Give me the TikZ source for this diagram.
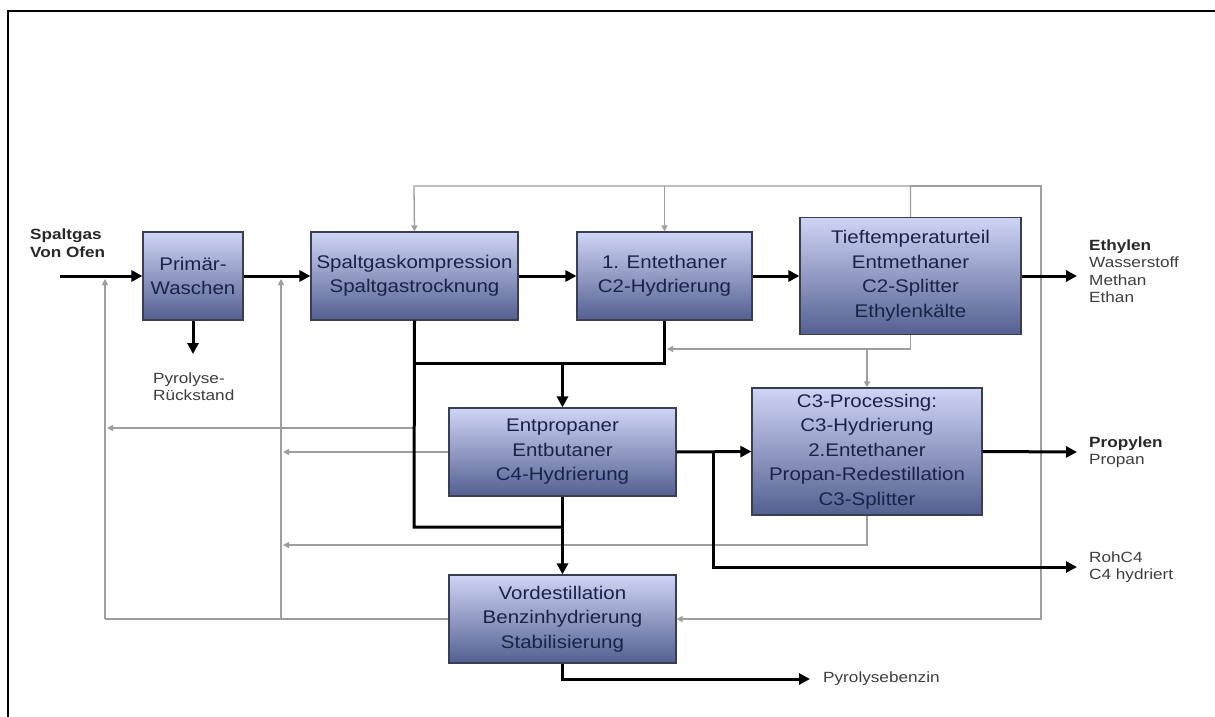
\documentclass[tikz,border=0pt]{standalone}
\usepackage{fontspec}
\setmainfont{Liberation Sans}
\newfontfamily\boxfont[FakeStretch=1.12]{Liberation Sans}
\newfontfamily\lblfont[FakeStretch=1.16]{Liberation Sans}
\usetikzlibrary{arrows.meta}

\definecolor{boxtop}{RGB}{206,213,245}
\definecolor{boxbot}{RGB}{84,95,144}
\definecolor{boxline}{RGB}{58,62,82}
\definecolor{boxtext}{RGB}{26,34,72}
\definecolor{recycle}{RGB}{158,158,158}
\definecolor{lbltext}{RGB}{62,62,62}
\definecolor{lblbold}{RGB}{40,40,40}

\tikzset{
  unit/.style={draw=boxline, line width=1.2pt, top color=boxtop, bottom color=boxbot,
    align=center, text=boxtext, inner sep=0pt,
    font=\boxfont\fontsize{18.3}{24.5}\selectfont},
  main/.style={line width=3pt, draw=black, line join=miter},
  mainarrow/.style={main, -{Triangle[length=11pt,width=11pt]}},
  rec/.style={line width=1.3pt, draw=recycle},
  recarrow/.style={rec, -{Triangle[length=6pt,width=6pt]}},
  lbl/.style={align=left, anchor=west, inner sep=0pt, text=lbltext,
    font=\lblfont\fontsize{14.8}{17.5}\selectfont},
}

\begin{document}
\begin{tikzpicture}[x=1pt,y=-1pt]
\useasboundingbox[fill=white] (0,0) rectangle (1215,717);
\draw[line width=2.5pt] (8,717) -- (8,11) -- (1215,11);

% process units
\node[unit, minimum width=100pt, minimum height=88pt] (PW) at (193,276) {Primär-\\Waschen};
\node[unit, minimum width=207pt, minimum height=88pt] (SK) at (414.5,276) {Spaltgaskompression\\Spaltgastrocknung};
\node[unit, minimum width=175pt, minimum height=88pt] (EE) at (664.5,276) {1. Entethaner\\C2-Hydrierung};
\node[unit, minimum width=221pt, minimum height=117pt] (TT) at (910.5,276) {Tieftemperaturteil\\Entmethaner\\C2-Splitter\\Ethylenkälte};
\node[unit, minimum width=227pt, minimum height=88pt] (EP) at (562.5,452) {Entpropaner\\Entbutaner\\C4-Hydrierung};
\node[unit, minimum width=230pt, minimum height=127pt] (C3) at (867,451.5) {C3-Processing:\\C3-Hydrierung\\2.Entethaner\\Propan-Redestillation\\C3-Splitter};
\node[unit, minimum width=227pt, minimum height=88pt] (VD) at (562.5,619) {Vordestillation\\Benzinhydrierung\\Stabilisierung};

% stream labels
\node[lbl, text=lblbold] (feedlbl) at (30,243) {\bfseries Spaltgas\\\bfseries Von Ofen};
\node[lbl] (residlbl) at (153,386.5) {Pyrolyse-\\Rückstand};
\node[lbl] (ethlbl) at (1089,271) {\textcolor{lblbold}{\bfseries Ethylen}\\Wasserstoff\\Methan\\Ethan};
\node[lbl] (proplbl) at (1089,452) {\textcolor{lblbold}{\bfseries Propylen}\\Propan};
\node[lbl] (c4lbl) at (1089,567) {RohC4\\C4 hydriert};
\node[lbl] (benzlbl) at (823,679) {Pyrolysebenzin};

% junction and end points
\coordinate (feed) at (60,276);
\coordinate (ethOut) at (1077,276);
\coordinate (resid) at (193,354);
\coordinate (j1) at (414,363);
\coordinate (j2) at (562.5,363);
\coordinate (j3) at (664.5,363);
\coordinate (j4) at (414,527);
\coordinate (j5) at (562.5,527);
\coordinate (j6) at (713,452);
\coordinate (c4Out) at (1077,567);
\coordinate (propOut) at (1077,452);
\coordinate (benzOut) at (810,679);

\coordinate (tl) at (414,186);
\coordinate (tm) at (664.5,186);
\coordinate (tr) at (1041,186);
\coordinate (br) at (1041,619);
\coordinate (eeJoin) at (667,349);
\coordinate (c3tap) at (867,349);
\coordinate (c3ret) at (283,545);
\coordinate (epret) at (283,452);
\coordinate (ktap) at (414,428);
\coordinate (kret) at (107,428);
\coordinate (vl) at (105,619);
\coordinate (vm) at (281,619);
\coordinate (r1) at (105,279);
\coordinate (r2) at (281,279);

% recycle streams
\draw[recarrow] (TT.north) |- (tl) -- (SK.north);
\draw[recarrow] (tm) -- (EE.north);
\draw[recarrow] (TT.north) |- (tr) -- (br) -- (VD.east);
\draw[recarrow] (TT.south) |- (eeJoin);
\draw[recarrow] (c3tap) -- (C3.north);
\draw[recarrow] (C3.south) |- (c3ret);
\draw[recarrow] (EP.west) -- (epret);
\draw[recarrow] (ktap) -- (kret);
\draw[rec] (VD.west) -- (vl);
\draw[recarrow] (vl) -- (r1);
\draw[recarrow] (vm) -- (r2);

% main streams
\draw[mainarrow] (feed) -- (PW.west);
\draw[mainarrow] (PW.east) -- (SK.west);
\draw[mainarrow] (SK.east) -- (EE.west);
\draw[mainarrow] (EE.east) -- (TT.west);
\draw[mainarrow] (TT.east) -- (ethOut);
\draw[mainarrow] (PW.south) -- (resid);
\draw[main] (EE.south) -- (j3) -- (j1);
\draw[main] (SK.south) -- (j4) -- (j5);
\draw[mainarrow] (j2) -- (EP.north);
\draw[mainarrow] (EP.south) -- (VD.north);
\draw[mainarrow] (EP.east) -- (C3.west);
\draw[mainarrow] (j6) |- (c4Out);
\draw[mainarrow] (C3.east) -- (propOut);
\draw[mainarrow] (VD.south) |- (benzOut);
\end{tikzpicture}
\end{document}
